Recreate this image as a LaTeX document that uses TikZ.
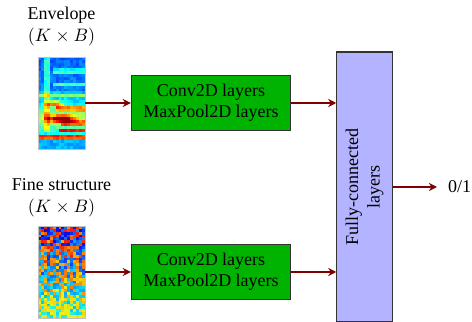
\documentclass[tikz,border=0pt]{standalone}
\usepackage{fontspec}
\setmainfont{Liberation Serif}
\usetikzlibrary{arrows.meta,positioning,calc,fit}
\definecolor{arrred}{HTML}{800000}
\definecolor{convgreen}{HTML}{00B300}
\definecolor{fclav}{HTML}{B3B3FF}
\definecolor{edgegray}{HTML}{333333}

% triangular bump used for the spectrogram bands
\pgfmathdeclarefunction{bump}{2}{\pgfmathparse{max(0,1-abs(#1)/#2)}}
% jet colour map: value in [0,1] -> colour "cellcol"
\newcommand\jetcell[1]{%
  \pgfmathsetmacro\jr{max(0,min(1,1.5-abs(4*#1-3)))}%
  \pgfmathsetmacro\jg{max(0,min(1,1.5-abs(4*#1-2)))}%
  \pgfmathsetmacro\jb{max(0,min(1,1.5-abs(4*#1-1)))}%
  \definecolor{cellcol}{rgb}{\jr,\jg,\jb}}

\tikzset{
  lbl/.style={align=center,font=\fontsize{10}{12}\selectfont,inner sep=1pt},
  convbox/.style={draw=edgegray,line width=0.6pt,fill=convgreen,align=center,
    minimum width=88.5pt,minimum height=30.5pt,inner sep=2pt,
    font=\fontsize{10}{11.5}\selectfont},
  fcbox/.style={draw=edgegray,line width=0.6pt,fill=fclav,align=center,rotate=90,
    minimum width=150pt,minimum height=30.8pt,inner sep=2pt,
    font=\fontsize{10}{12}\selectfont},
  flow/.style={-{Stealth[length=4.5pt,width=4.5pt]},line width=1pt,arrred}
}

\begin{document}
\begin{tikzpicture}[x=0.01953cm,y=-0.01953cm]
  \useasboundingbox (0,0) rectangle (472,322);
  \pgfmathsetseed{7}

  % envelope spectrogram
  \foreach \i in {0,...,15}{
    \foreach \j in {0,...,31}{
      \pgfmathsetmacro\xx{(\i+0.5)/16}
      \pgfmathsetmacro\yy{(\j+0.5)/32}
      \pgfmathsetmacro\vv{0.18+0.08*\yy+0.08*rnd
        +0.3*bump(\xx-0.19,0.08)*(\yy<0.82)
        +0.3*bump(\yy-0.66,0.24)
        +0.3*bump(\yy-0.16,0.035)*(\xx>0.3)
        +0.22*bump(\yy-0.30,0.03)*(\xx>0.3)
        +0.26*bump(\yy-0.42,0.04)
        +0.5*bump(\yy-0.51,0.045)*bump(\xx-0.35,0.3)
        +0.5*bump(\yy-0.56,0.035)*(\xx>0.35)
        +0.75*bump(\yy-0.68,0.06)*bump(\xx-0.5,0.4)
        +0.55*bump(\yy-0.72,0.03)*(\xx>0.5)
        +0.5*bump(\yy-0.80,0.03)*(\xx>0.45)
        +0.75*bump(\yy-0.875,0.045)}
      \pgfmathsetmacro\vv{max(0.06,min(0.98,\vv))}
      \jetcell{\vv}
      \fill[cellcol] (38+\i*2.9375,57+\j*2.875) rectangle ++(3.2,3.1);
    }
  }
  \node[fit={(38,57) (85,149)},inner sep=0,draw=gray!50,line width=0.3pt] (envimg) {};

  % fine structure spectrogram
  \foreach \i in {0,...,15}{
    \foreach \j in {0,...,31}{
      \pgfmathsetmacro\yy{(\j+0.5)/32}
      \pgfmathsetmacro\sg{rnd<0.5 ? -1 : 1}
      \pgfmathsetmacro\vv{0.5+\sg*(0.12+0.26*(1-\yy))*(0.6+0.6*rnd)}
      \pgfmathsetmacro\vv{max(0.08,min(0.86,\vv))}
      \jetcell{\vv}
      \fill[cellcol!90!gray] (38+\i*2.9375,226+\j*2.875) rectangle ++(3.2,3.1);
    }
  }
  \node[fit={(38,226) (85,318)},inner sep=0,draw=gray!50,line width=0.3pt] (fineimg) {};

  \node[lbl] (envlbl) at (61.5,26.5) {Envelope\\$(K\times B)$};
  \node[lbl] (finelbl) at (61.5,197.5) {Fine structure\\$(K\times B)$};

  \node[convbox] (conv1) at (211,103) {Conv2D layers\\MaxPool2D layers};
  \node[convbox] (conv2) at (211,272) {Conv2D layers\\MaxPool2D layers};
  \node[fcbox] (fc) at (364.5,187) {Fully-connected\\layers};
  \node[lbl,anchor=west] (out) at (446,187) {0/1};

  \draw[flow] (envimg.east) -- (conv1.west);
  \draw[flow] (fineimg.east) -- (conv2.west);
  \draw[flow] (conv1.east) -- (conv1.east -| fc.north);
  \draw[flow] (conv2.east) -- (conv2.east -| fc.north);
  \draw[flow] (fc.south) -- ([xshift=-5pt]out.west);
\end{tikzpicture}
\end{document}
